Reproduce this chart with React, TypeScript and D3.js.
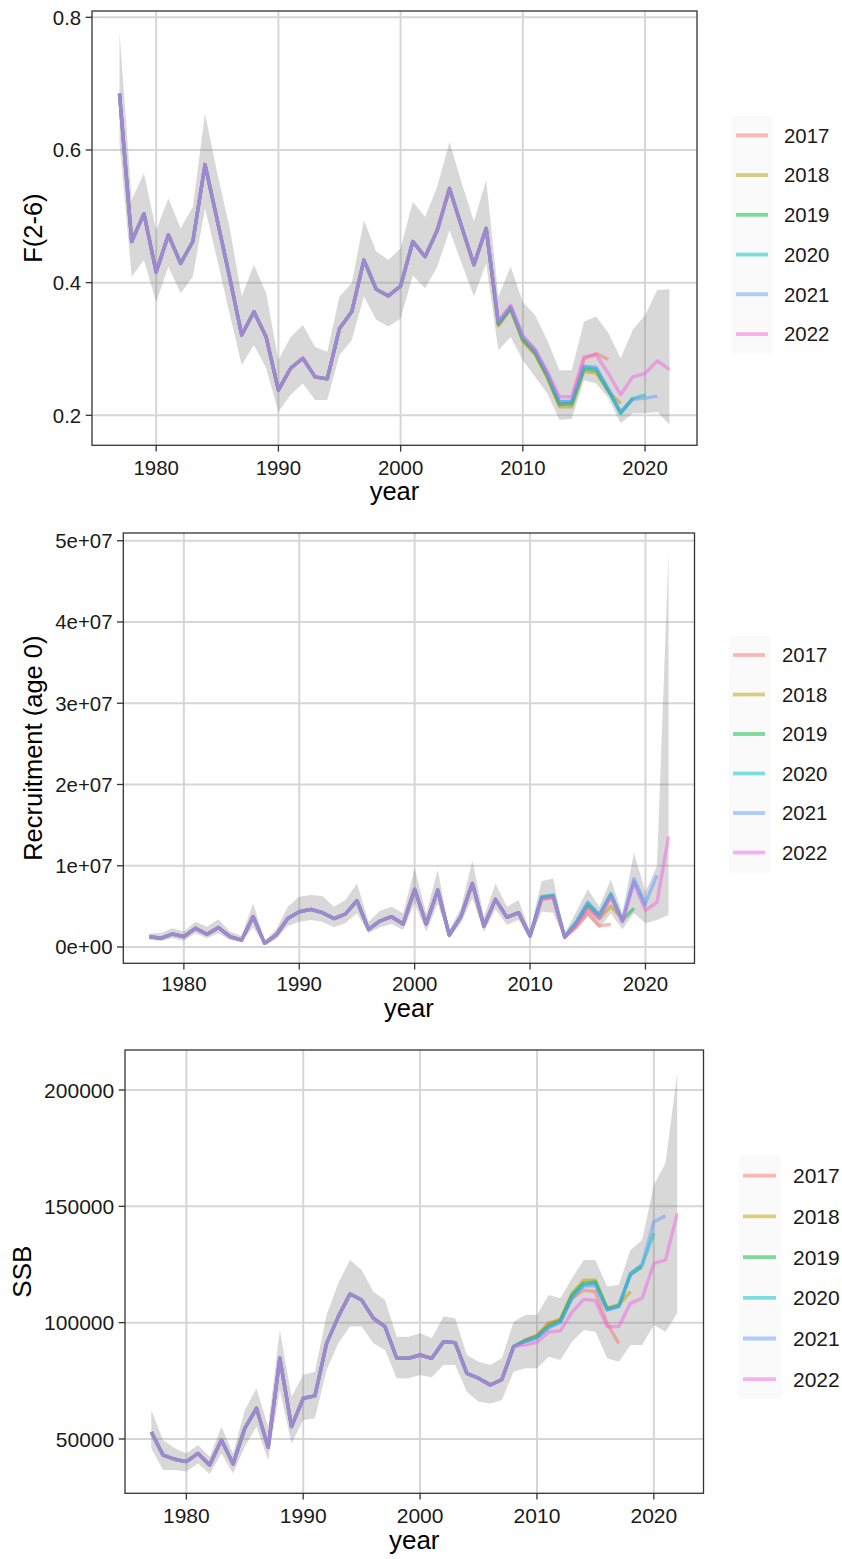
import React from 'react';
import * as d3 from 'd3';

const YEARS = [1977, 1978, 1979, 1980, 1981, 1982, 1983, 1984, 1985, 1986, 1987, 1988, 1989, 1990, 1991, 1992, 1993, 1994, 1995, 1996, 1997, 1998, 1999, 2000, 2001, 2002, 2003, 2004, 2005, 2006, 2007, 2008, 2009, 2010, 2011, 2012, 2013, 2014, 2015, 2016, 2017, 2018, 2019, 2020, 2021, 2022];
const SERIES = ['2017', '2018', '2019', '2020', '2021', '2022'];
const COLORS = ['#F8766D', '#B79F00', '#00BA38', '#00BFC4', '#619CFF', '#F564E3'];
const X_TICKS = [1980, 1990, 2000, 2010, 2020];

// ---------- F(2-6) ----------
const F_EARLY = [0.685, 0.462, 0.504, 0.416, 0.472, 0.429, 0.462, 0.578, 0.494, 0.409, 0.321, 0.356, 0.318, 0.238, 0.271, 0.286, 0.258, 0.255, 0.331, 0.356, 0.434, 0.39, 0.38, 0.395, 0.462, 0.439, 0.479, 0.542, 0.484, 0.427, 0.482]; // 1977-2007
const F_2017 = [0.336, 0.361, 0.313, 0.293, 0.258, 0.216, 0.22, 0.285, 0.293, 0.284];
const F_2018 = [0.335, 0.36, 0.312, 0.292, 0.257, 0.213, 0.213, 0.266, 0.264, 0.236, 0.218];
const F_2019 = [0.338, 0.362, 0.315, 0.295, 0.26, 0.217, 0.217, 0.27, 0.268, 0.237, 0.204, 0.226];
const F_2020 = [0.339, 0.363, 0.317, 0.297, 0.262, 0.22, 0.22, 0.273, 0.271, 0.238, 0.203, 0.225, 0.231];
const F_2021 = [0.34, 0.364, 0.318, 0.298, 0.263, 0.221, 0.221, 0.274, 0.272, 0.24, 0.205, 0.224, 0.226, 0.229];
const F_2022 = [0.342, 0.366, 0.32, 0.3, 0.266, 0.228, 0.228, 0.288, 0.291, 0.263, 0.231, 0.258, 0.263, 0.282, 0.269];
const F_UPPER = [0.778, 0.525, 0.565, 0.479, 0.527, 0.482, 0.514, 0.655, 0.565, 0.484, 0.379, 0.427, 0.384, 0.283, 0.318, 0.336, 0.303, 0.296, 0.379, 0.399, 0.494, 0.447, 0.434, 0.452, 0.522, 0.499, 0.545, 0.612, 0.55, 0.492, 0.555, 0.379, 0.424, 0.371, 0.351, 0.313, 0.268, 0.268, 0.341, 0.349, 0.324, 0.286, 0.329, 0.351, 0.389, 0.39];
const F_LOWER = [0.61, 0.409, 0.434, 0.371, 0.424, 0.384, 0.409, 0.512, 0.434, 0.354, 0.276, 0.306, 0.271, 0.205, 0.231, 0.248, 0.223, 0.223, 0.291, 0.313, 0.379, 0.344, 0.334, 0.346, 0.411, 0.391, 0.424, 0.479, 0.429, 0.379, 0.429, 0.298, 0.318, 0.283, 0.258, 0.233, 0.193, 0.195, 0.253, 0.248, 0.226, 0.188, 0.203, 0.203, 0.205, 0.186];
const F_TICKS = [0.2, 0.4, 0.6, 0.8];

// ---------- Recruitment (age 0) ----------
const R_EARLY = [1.27e6, 1.07e6, 1.6e6, 1.27e6, 2.3e6, 1.56e6, 2.4e6, 1.27e6, 0.86e6, 3.73e6, 0.45e6, 1.48e6, 3.5e6, 4.34e6, 4.63e6, 4.22e6, 3.5e6, 4.06e6, 5.7e6, 2.17e6, 3.2e6, 3.73e6, 2.83e6, 7.1e6, 2.83e6, 7.0e6, 1.48e6, 3.73e6, 7.83e6, 2.58e6, 5.86e6, 3.65e6, 4.22e6, 1.35e6]; // 1977-2010
const R_2017 = [5.9e6, 6.1e6, 1.2e6, 2.4e6, 4.2e6, 2.6e6, 2.8e6];
const R_2018 = [6.0e6, 6.2e6, 1.25e6, 2.8e6, 5.0e6, 3.5e6, 5.0e6, 3.5e6];
const R_2019 = [6.1e6, 6.3e6, 1.25e6, 2.9e6, 5.2e6, 3.8e6, 6.3e6, 3.3e6, 4.75e6];
const R_2020 = [6.2e6, 6.4e6, 1.25e6, 3.1e6, 5.5e6, 4.0e6, 6.6e6, 3.2e6, 8.1e6, 5.0e6];
const R_2021 = [6.1e6, 6.3e6, 1.25e6, 3.0e6, 5.4e6, 3.9e6, 6.5e6, 3.2e6, 8.4e6, 5.4e6, 8.85e6];
const R_2022 = [5.86e6, 6.07e6, 1.19e6, 2.7e6, 4.7e6, 3.5e6, 6.1e6, 3.1e6, 7.9e6, 4.5e6, 5.5e6, 13.6e6];
const R_UPPER = [1.68e6, 1.68e6, 2.3e6, 1.9e6, 3.1e6, 2.5e6, 3.4e6, 1.9e6, 1.35e6, 5.37e6, 0.78e6, 2.17e6, 4.96e6, 6.19e6, 6.4e6, 6.27e6, 4.96e6, 5.78e6, 7.83e6, 3.1e6, 4.47e6, 4.96e6, 4.14e6, 9.67e6, 4.14e6, 9.47e6, 2.1e6, 4.75e6, 10.6e6, 3.73e6, 7.83e6, 4.96e6, 5.78e6, 2.0e6, 8.1e6, 8.44e6, 1.68e6, 4.34e6, 7.1e6, 4.96e6, 8.3e6, 4.14e6, 11.6e6, 6.8e6, 10.0e6, 48.5e6];
const R_LOWER = [0.86e6, 0.78e6, 1.07e6, 0.78e6, 1.68e6, 1.07e6, 1.68e6, 0.86e6, 0.66e6, 2.42e6, 0.25e6, 0.94e6, 2.58e6, 3.11e6, 3.32e6, 3.11e6, 2.42e6, 2.91e6, 4.14e6, 1.68e6, 2.42e6, 2.83e6, 2.09e6, 5.37e6, 1.89e6, 5.29e6, 1.07e6, 2.91e6, 5.98e6, 1.89e6, 4.63e6, 2.7e6, 3.32e6, 0.94e6, 4.34e6, 4.22e6, 0.94e6, 2.17e6, 3.73e6, 2.3e6, 4.14e6, 2.17e6, 4.14e6, 2.91e6, 3.32e6, 3.93e6];
const R_TICKS = [0, 1e7, 2e7, 3e7, 4e7, 5e7];

// ---------- SSB ----------
const S_EARLY = [53000, 43100, 41300, 40300, 43800, 38800, 49600, 39300, 54600, 63200, 46400, 84700, 55300, 67500, 68500, 91100, 102600, 112300, 109700, 101900, 98300, 84700, 84700, 86100, 84700, 91800, 91400, 78200, 76100, 73200, 75600, 89700]; // 1977-2008
const S_2017 = [92500, 94500, 100000, 101000, 110500, 114000, 113300, 99700, 91100];
const S_2018 = [92500, 94500, 99500, 101500, 112500, 118300, 118300, 106200, 107600, 113300];
const S_2019 = [92300, 94000, 98500, 100800, 112000, 117000, 117500, 106000, 107300, 120500, 124000];
const S_2020 = [92000, 93500, 98000, 100300, 111000, 116200, 116900, 105500, 106900, 121200, 124800, 138400];
const S_2021 = [92000, 93500, 97800, 100000, 110500, 115800, 116000, 105500, 107000, 121000, 125000, 143400, 145900];
const S_2022 = [90500, 91500, 96000, 96500, 104500, 110000, 109500, 98300, 98300, 108300, 110500, 125500, 127000, 147000];
const S_UPPER = [62500, 49600, 46000, 43800, 47400, 42400, 55300, 43800, 62500, 71800, 55300, 96800, 68200, 77500, 78900, 103300, 116900, 126900, 122600, 113300, 109700, 94000, 94000, 95400, 93300, 102600, 101900, 86100, 83200, 81800, 84700, 100400, 103300, 103300, 111900, 110500, 119100, 126900, 126900, 115500, 116200, 131200, 135500, 159200, 168500, 207200];
const S_LOWER = [46000, 36700, 36700, 36000, 39500, 35000, 43800, 35200, 46700, 55300, 41000, 71100, 48100, 58200, 58900, 79700, 91100, 98300, 98300, 91100, 88300, 76100, 76100, 77500, 76500, 81800, 81800, 70300, 66000, 65300, 66800, 78900, 80400, 80400, 85400, 84000, 91800, 96800, 96100, 84700, 83200, 90400, 90400, 99000, 96100, 104000];
const S_TICKS = [50000, 100000, 150000, 200000];

const FONT = 'Liberation Sans, Arial, Helvetica, sans-serif';

const sciFmt = (v: number) => {
  const [m, e] = v.toExponential(0).split('e');
  return `${m}e${e[0]}${e.slice(1).padStart(2, '0')}`;
};

type Legend = { bx0: number; bx1: number; by0: number; by1: number; lx0: number; lx1: number; ly0: number; dy: number; tx: number };
type Cfg = {
  left: number; right: number; top: number; bottom: number;
  yDomain: [number, number];
  yTicks: number[];
  fmt: (v: number) => string;
  yTitle: string; yTitleX: number;
  series: number[][];
  lower: number[]; upper: number[];
  legend: Legend;
  fs: number; tfs: number; labOff: number; titleOff: number;
};

function Panel({ c }: { c: Cfg }) {
  const x = d3.scaleLinear().domain([1974.75, 2024.25]).range([c.left, c.right]);
  const y = d3.scaleLinear().domain(c.yDomain).range([c.bottom, c.top]);
  const area = d3.area<number>()
    .x((_, i) => x(YEARS[i]))
    .y0((_, i) => y(c.lower[i]))
    .y1((_, i) => y(c.upper[i]));
  const line = d3.line<number>().x((_, i) => x(YEARS[i])).y((d) => y(d));
  const clipId = `clip-${Math.round(c.top)}`;
  const tickLen = 6.3;
  return (
    <g>
      <defs>
        <clipPath id={clipId}>
          <rect x={c.left} y={c.top} width={c.right - c.left} height={c.bottom - c.top} />
        </clipPath>
      </defs>
      <rect x={c.left} y={c.top} width={c.right - c.left} height={c.bottom - c.top} fill="#fff" />
      {X_TICKS.map((t) => (
        <line key={'gx' + t} x1={x(t)} x2={x(t)} y1={c.top} y2={c.bottom} stroke="#D6D6D6" strokeWidth={2} />
      ))}
      {c.yTicks.map((t) => (
        <line key={'gy' + t} x1={c.left} x2={c.right} y1={y(t)} y2={y(t)} stroke="#D6D6D6" strokeWidth={2} />
      ))}
      <g clipPath={`url(#${clipId})`}>
        <path d={area(c.upper) || ''} fill="#7f7f7f" fillOpacity={0.3} />
        {c.series.map((s, i) => (
          <path key={i} d={line(s) || ''} fill="none" stroke={COLORS[i]} strokeOpacity={0.5} strokeWidth={3.4} strokeLinejoin="round" />
        ))}
      </g>
      <rect x={c.left} y={c.top} width={c.right - c.left} height={c.bottom - c.top} fill="none" stroke="#333" strokeWidth={1.3} />
      {X_TICKS.map((t) => (
        <g key={'tx' + t}>
          <line x1={x(t)} x2={x(t)} y1={c.bottom} y2={c.bottom + tickLen} stroke="#333" strokeWidth={1.3} />
          <text x={x(t)} y={c.bottom + c.labOff} textAnchor="middle" fontSize={c.fs} fill="#1a1a1a" fontFamily={FONT}>{t}</text>
        </g>
      ))}
      {c.yTicks.map((t) => (
        <g key={'ty' + t}>
          <line x1={c.left - tickLen} x2={c.left} y1={y(t)} y2={y(t)} stroke="#333" strokeWidth={1.3} />
          <text x={c.left - tickLen - 4.5} y={y(t)} dy="0.36em" textAnchor="end" fontSize={c.fs} fill="#1a1a1a" fontFamily={FONT}>{c.fmt(t)}</text>
        </g>
      ))}
      <text x={(c.left + c.right) / 2} y={c.bottom + c.titleOff} textAnchor="middle" fontSize={c.tfs} fill="#000" fontFamily={FONT}>year</text>
      <text transform={`translate(${c.yTitleX},${(c.top + c.bottom) / 2}) rotate(-90)`} dy="0.36em" textAnchor="middle" fontSize={c.tfs} fill="#000" fontFamily={FONT}>{c.yTitle}</text>
      <rect x={c.legend.bx0} y={c.legend.by0} width={c.legend.bx1 - c.legend.bx0} height={c.legend.by1 - c.legend.by0} fill="#FAFAFA" />
      {SERIES.map((s, i) => {
        const ly = c.legend.ly0 + i * c.legend.dy;
        return (
          <g key={'lg' + s}>
            <line x1={c.legend.lx0} x2={c.legend.lx1} y1={ly} y2={ly} stroke={COLORS[i]} strokeOpacity={0.5} strokeWidth={3.8} />
            <text x={c.legend.tx} y={ly} dy="0.36em" fontSize={c.fs} fill="#1a1a1a" fontFamily={FONT}>{s}</text>
          </g>
        );
      })}
    </g>
  );
}

const fSeries = [F_2017, F_2018, F_2019, F_2020, F_2021, F_2022].map((t) => F_EARLY.concat(t));
const rSeries = [R_2017, R_2018, R_2019, R_2020, R_2021, R_2022].map((t) => R_EARLY.concat(t));
const sSeries = [S_2017, S_2018, S_2019, S_2020, S_2021, S_2022].map((t) => S_EARLY.concat(t));

const PANELS: Cfg[] = [
  {
    left: 92, right: 697, top: 11, bottom: 445.3,
    yDomain: [0.1548, 0.8095], yTicks: F_TICKS, fmt: (v) => d3.format('.1f')(v),
    yTitle: 'F(2-6)', yTitleX: 33, series: fSeries, lower: F_LOWER, upper: F_UPPER,
    legend: { bx0: 732, bx1: 772, by0: 116, by1: 353, lx0: 736, lx1: 768, ly0: 135.3, dy: 39.75, tx: 784 },
    fs: 20.4, tfs: 25.5, labOff: 30, titleOff: 55,
  },
  {
    left: 123.3, right: 694.5, top: 533, bottom: 963.3,
    yDomain: [-2.006e6, 5.095e7], yTicks: R_TICKS, fmt: sciFmt,
    yTitle: 'Recruitment (age 0)', yTitleX: 33, series: rSeries, lower: R_LOWER, upper: R_UPPER,
    legend: { bx0: 729, bx1: 770, by0: 636, by1: 873, lx0: 733, lx1: 765, ly0: 655, dy: 39.5, tx: 782 },
    fs: 20.4, tfs: 25.5, labOff: 28, titleOff: 54,
  },
  {
    left: 125, right: 703.5, top: 1050, bottom: 1493.3,
    yDomain: [26662, 217192], yTicks: S_TICKS, fmt: (v) => String(v),
    yTitle: 'SSB', yTitleX: 21.5, series: sSeries, lower: S_LOWER, upper: S_UPPER,
    legend: { bx0: 739, bx1: 781, by0: 1155, by1: 1399, lx0: 743, lx1: 776, ly0: 1175.7, dy: 40.7, tx: 793 },
    fs: 21, tfs: 26, labOff: 29.5, titleOff: 56,
  },
];

export default function App() {
  return (
    <svg width={842} height={1559} style={{ position: 'absolute', left: 0, top: 0, background: '#fff' }}>
      <rect x={0} y={0} width={842} height={1559} fill="#fff" />
      {PANELS.map((c, i) => (
        <Panel key={i} c={c} />
      ))}
    </svg>
  );
}
